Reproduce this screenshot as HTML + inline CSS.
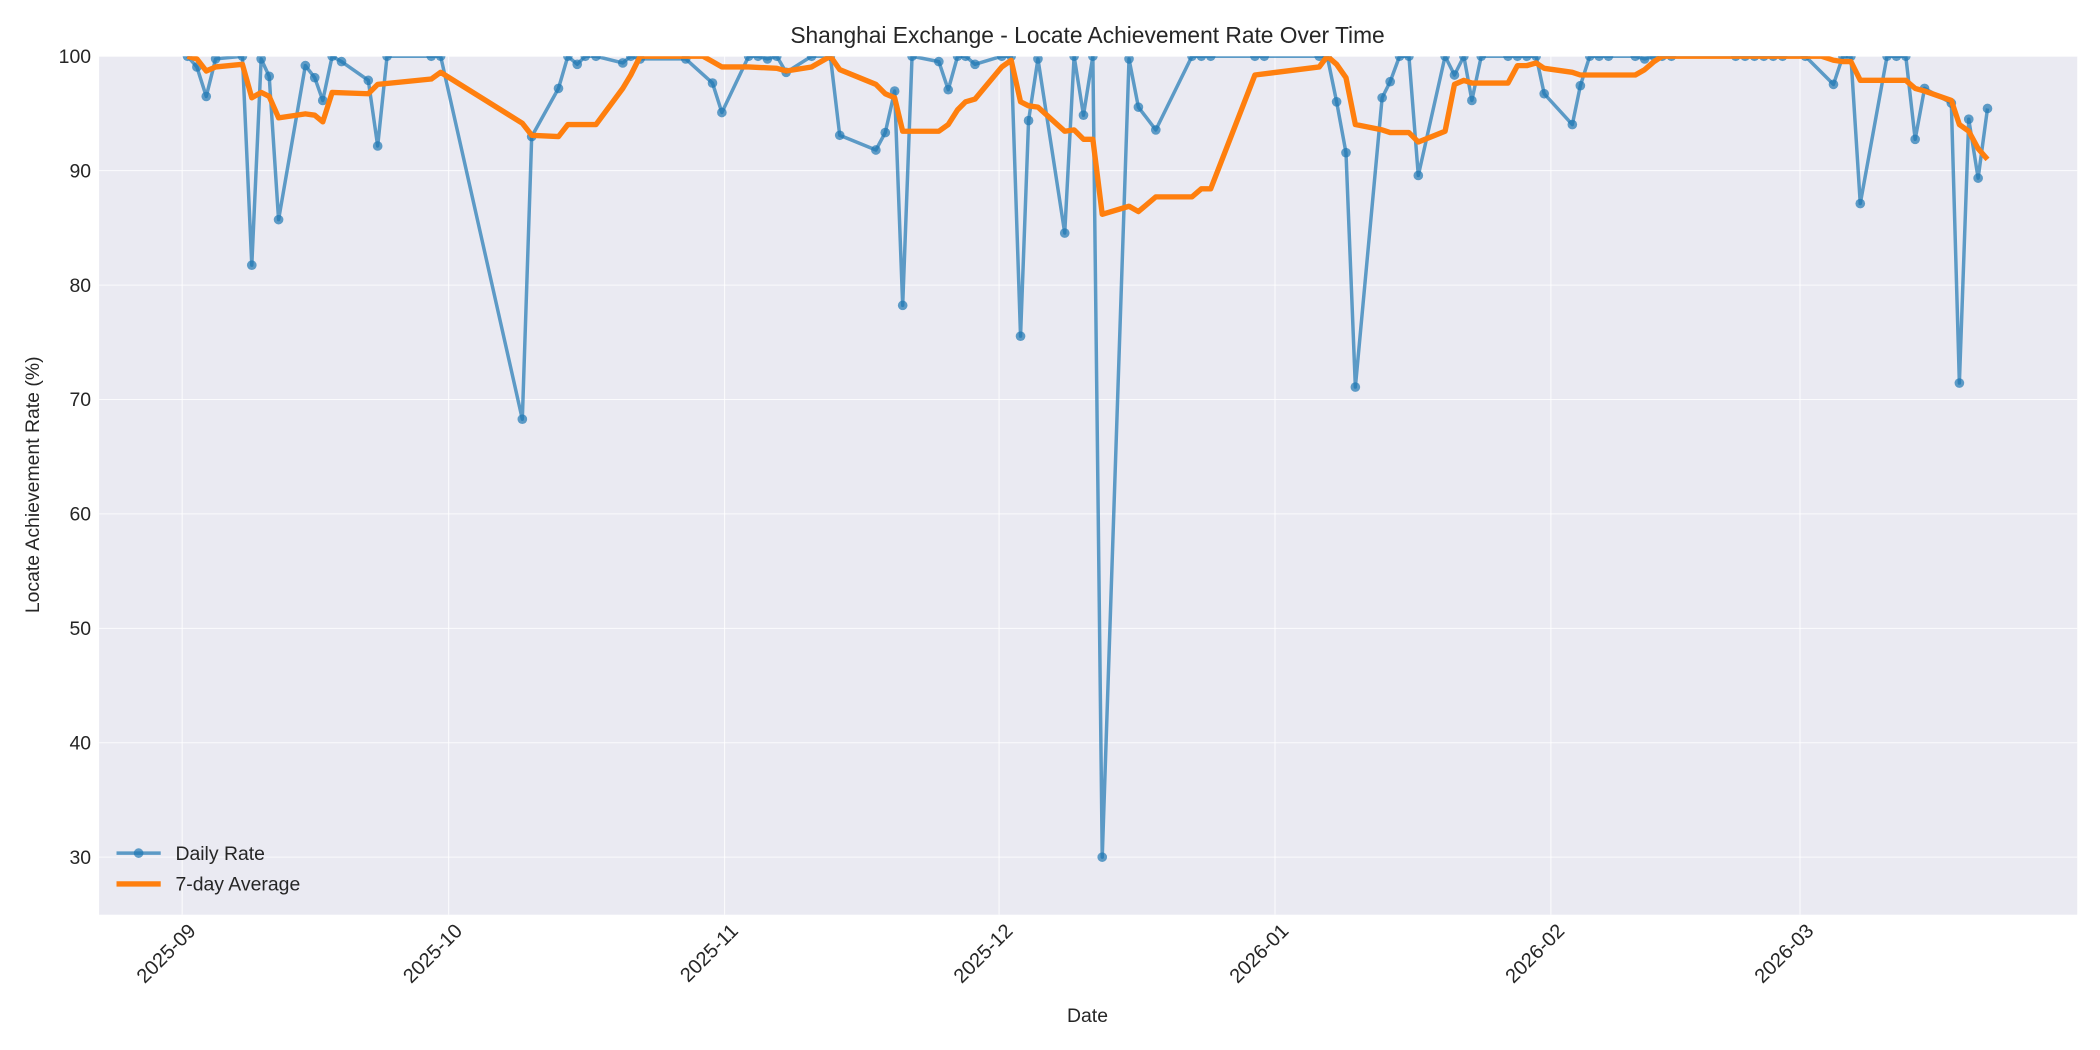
<!DOCTYPE html>
<html><head><meta charset="utf-8"><style>html,body{margin:0;padding:0;background:#fff}svg{display:block}</style></head><body>
<svg width="2100" height="1050" viewBox="0 0 1568 784" xmlns="http://www.w3.org/2000/svg" font-family="Liberation Sans, DejaVu Sans, sans-serif">
<rect x="0" y="0" width="1568" height="784" fill="#fff"/>
<rect x="74" y="42" width="1477" height="641" fill="#eaeaf2"/>
<g stroke="#fff" stroke-width="0.8" stroke-opacity="0.8">
<line x1="74" x2="1551" y1="42" y2="42"/><line x1="74" x2="1551" y1="127.4" y2="127.4"/><line x1="74" x2="1551" y1="212.9" y2="212.9"/><line x1="74" x2="1551" y1="298.3" y2="298.3"/><line x1="74" x2="1551" y1="383.7" y2="383.7"/><line x1="74" x2="1551" y1="469.2" y2="469.2"/><line x1="74" x2="1551" y1="554.6" y2="554.6"/><line x1="74" x2="1551" y1="640" y2="640"/>
<line x1="136" x2="136" y1="42" y2="683"/><line x1="335" x2="335" y1="42" y2="683"/><line x1="541" x2="541" y1="42" y2="683"/><line x1="746" x2="746" y1="42" y2="683"/><line x1="952" x2="952" y1="42" y2="683"/><line x1="1158" x2="1158" y1="42" y2="683"/><line x1="1344" x2="1344" y1="42" y2="683"/>
</g>
<svg x="74" y="42" width="1477" height="641" viewBox="74 42 1477 641" overflow="hidden">
<g id="blue" fill="none" stroke="#1f77b4" stroke-opacity="0.7" stroke-width="2.6" stroke-linejoin="round">
<polyline points="140,42 147,50 154,72 161,44 181,42 188,198 195,44 201,57 208,164 228,49 235,58 241,75 248,42 255,46 275,60 282,109 289,42 322,42 329,42 390,313 397,102 417,66 424,42 431,48 437,42 445,42 465,47 471,42 478,44 512,44 532,62 539,84 559,42 566,42 573,44 580,42 587,54 606,42 620,42 627,101 654,112 661,99 668,68 674,228 681,42 701,46 708,67 715,42 721,42 728,48 748,42 755,42 762,251 768,90 775,44 795,174 802,42 809,86 816,42 823,640 843,44 850,80 863,97 890,42 897,42 904,42 937,42 944,42 985,42 991,42 998,76 1005,114 1012,289 1032,73 1038,61 1045,42 1052,42 1059,131 1079,42 1086,56 1093,42 1099,75 1106,42 1126,42 1133,42 1140,42 1147,42 1153,70 1174,93 1180,64 1187,42 1194,42 1201,42 1221,42 1228,44 1235,42 1241,42 1248,42 1296,42 1303,42 1310,42 1317,42 1324,42 1331,42 1348,42 1369,63 1376,42 1382,42 1389,152 1409,42 1416,42 1423,42 1430,104 1437,66 1457,77 1463,286 1470,89 1477,133 1484,81"/>
</g>
<g id="dots" fill="#1f77b4" fill-opacity="0.7"></g>
<polyline fill="none" stroke="#ff7f0e" stroke-width="4" stroke-linejoin="round" points="140,42 147,44 154,53 161,50 181,48 188,73 195,69 201,72 208,88 228,85 235,86 241,91 248,69 275,70 282,63 322,59 329,54 390,92 397,101 417,102 424,93 445,93 465,66 471,56 478,42 525,42 532,46 539,50 559,50 580,51 587,53 606,50 620,42 627,52 654,63 661,70 668,73 674,98 701,98 708,93 715,82 721,76 728,74 748,50 755,45 762,76 768,79 775,80 795,98 802,97 809,104 816,104 823,160 843,154 850,158 863,147 890,147 897,141 904,141 937,56 985,50 991,42 998,48 1005,58 1012,93 1032,97 1038,99 1052,99 1059,106 1079,98 1086,63 1093,60 1099,62 1126,62 1133,49 1140,49 1147,47 1153,51 1174,54 1180,56 1194,56 1221,56 1228,52 1235,46 1241,42 1360,42 1369,45 1376,46 1382,46 1389,60 1416,60 1423,60 1430,66 1437,68 1457,75 1463,93 1470,98 1477,111 1484,119"/>
</svg>
<script>
var pts=document.querySelector('#blue polyline').getAttribute('points').trim().split(/\s+/);
var g=document.getElementById('dots');
pts.forEach(function(p){var a=p.split(',');var c=document.createElementNS('http://www.w3.org/2000/svg','circle');c.setAttribute('cx',a[0]);c.setAttribute('cy',a[1]);c.setAttribute('r','3.6');g.appendChild(c);});
</script>
<text x="812" y="32" font-size="17" text-anchor="middle" fill="#262626">Shanghai Exchange - Locate Achievement Rate Over Time</text>
<g font-size="14.5" fill="#262626" text-anchor="end">
<text x="68" y="47">100</text><text x="68" y="132.4">90</text><text x="68" y="217.9">80</text><text x="68" y="303.3">70</text><text x="68" y="388.7">60</text><text x="68" y="474.2">50</text><text x="68" y="559.6">40</text><text x="68" y="645">30</text>
</g>
<g font-size="15" fill="#262626" text-anchor="end">
<text transform="translate(147,696) rotate(-45)">2025-09</text>
<text transform="translate(346,696) rotate(-45)">2025-10</text>
<text transform="translate(552,696) rotate(-45)">2025-11</text>
<text transform="translate(757,696) rotate(-45)">2025-12</text>
<text transform="translate(963,696) rotate(-45)">2026-01</text>
<text transform="translate(1169,696) rotate(-45)">2026-02</text>
<text transform="translate(1355,696) rotate(-45)">2026-03</text>
</g>
<text x="812" y="763" font-size="14.5" text-anchor="middle" fill="#262626">Date</text>
<text transform="translate(29,362) rotate(-90)" font-size="14.5" text-anchor="middle" fill="#262626">Locate Achievement Rate (%)</text>
<g>
<line x1="87" x2="120" y1="637" y2="637" stroke="#1f77b4" stroke-opacity="0.7" stroke-width="2.6"/>
<circle cx="103.5" cy="637" r="3.6" fill="#1f77b4" fill-opacity="0.7"/>
<text x="131" y="642" font-size="14.5" fill="#262626">Daily Rate</text>
<line x1="87" x2="120" y1="660" y2="660" stroke="#ff7f0e" stroke-width="4"/>
<text x="131" y="665" font-size="14.5" fill="#262626">7-day Average</text>
</g>
</svg>
</body></html>
